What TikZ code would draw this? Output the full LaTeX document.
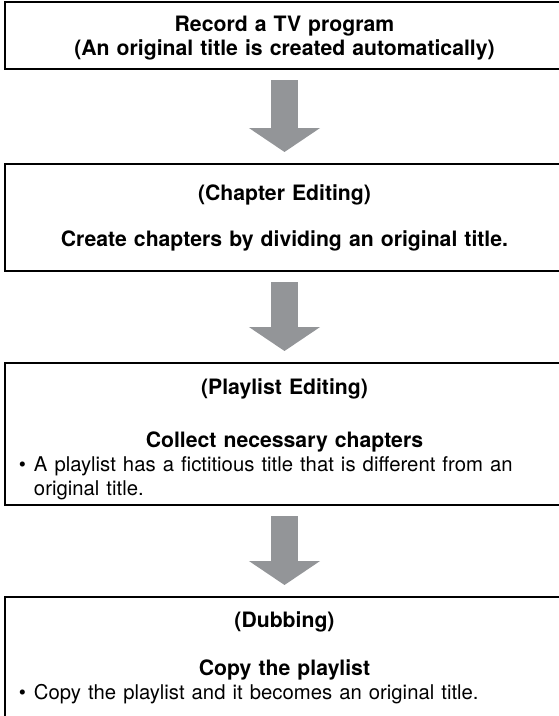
\documentclass[tikz,border=0pt]{standalone}
\usepackage{fontspec}
\setmainfont{TeX Gyre Heros}
\usepackage{tikz}
\usetikzlibrary{positioning, arrows.meta}

\definecolor{arrowgray}{HTML}{939598}
\newcommand{\bulletpar}[1]{\par{\mdseries\fontsize{20.3}{24}\selectfont\raggedright
  \hangindent=15pt \hangafter=1 \noindent\makebox[15pt][l]{\textbullet}#1\par}}

\begin{document}
\begin{tikzpicture}[
 node distance=90pt,
 stage/.style={rectangle, draw=black, line width=2pt,
   text width=531pt, inner xsep=14pt, inner ysep=0pt,
   font=\bfseries\fontsize{21.2}{24}\selectfont},
 flow/.style={draw=arrowgray, line width=27pt,
   -{Triangle[width=70pt, length=24pt]}, shorten <=10pt, shorten >=11pt}
]
\useasboundingbox (0,0) rectangle (559pt,-716pt);
\clip (0,0) rectangle (559pt,-716pt);
\node[stage, text height=29pt, text depth=38pt, anchor=north west] (rec) at (4pt,-1pt)
  {{\centering Record a TV program\\(An original title is created automatically)\par}};
\node[stage, text height=36pt, text depth=71pt, below=93pt of rec] (chap)
  {{\centering (Chapter Editing)\\[22pt]Create chapters by dividing an original title.\par}};
\node[stage, text height=31pt, text depth=111pt, below=of chap] (play)
  {{\centering (Playlist Editing)\\[29pt]Collect necessary chapters\par}%
   \bulletpar{A playlist has a fictitious title that is different from an original title.}};
\node[stage, text height=30pt, text depth=91pt, below=of play] (dub)
  {{\centering (Dubbing)\\[24pt]Copy the playlist\par}%
   \bulletpar{Copy the playlist and it becomes an original title.}};
\draw[flow] (rec) -- (chap);
\draw[flow] (chap) -- (play);
\draw[flow] (play) -- (dub);
\end{tikzpicture}
\end{document}
